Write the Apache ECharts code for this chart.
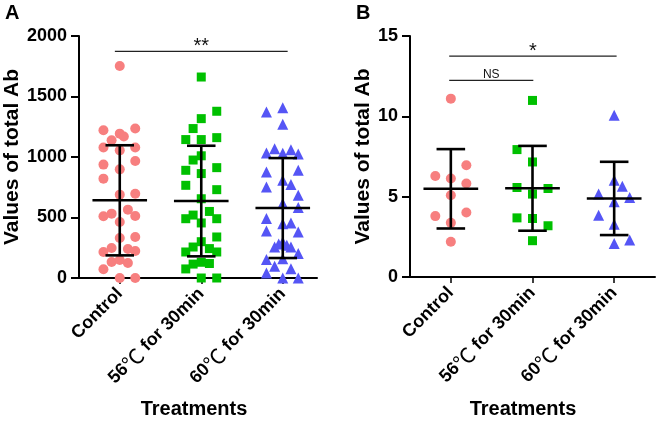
<!DOCTYPE html>
<html>
<head>
<meta charset="utf-8">
<script src="https://cdn.jsdelivr.net/npm/echarts@6/dist/echarts.min.js"></script>
<style>html,body{margin:0;padding:0;background:#fff}#c{width:661px;height:422px}</style>
</head>
<body>
<div id="c"></div>
<script>
// ---------- data ----------
const categories = ['Control', '56℃ for 30min', '60℃ for 30min'];
const yTicksA = [0, 500, 1000, 1500, 2000];
const yTicksB = [0, 5, 10, 15];

// points: [horizontal jitter (category units), value]
const controlA = [[0,1752],[-0.2,1221],[0.19,1235],[0,1193],[0.05,1170],[-0.1,1138],[-0.2,1078],[0.19,1078],[0,1055],[-0.2,937],[0.19,967],[0,898],[-0.2,821],[0,689],[0.19,697],[-0.2,510],[-0.1,532],[0.1,565],[0.19,512],[0,463],[-0.2,215],[-0.1,248],[0,331],[0.19,339],[0.1,240],[0.19,223],[-0.1,132],[0,149],[0.1,124],[-0.2,72],[0,0],[0.19,0]];
const heat56A = [[0,1661],[0.19,1378],[0,1317],[-0.1,1235],[-0.19,1144],[0,1144],[0.19,1160],[-0.1,975],[0,1010],[-0.19,890],[0.19,912],[0,863],[-0.19,766],[0.19,730],[0,655],[-0.19,490],[-0.1,520],[0.1,550],[0.19,490],[0,455],[-0.19,215],[-0.1,256],[0,300],[0.19,339],[0.1,243],[0.19,215],[-0.19,75],[-0.1,115],[0,130],[0.1,120],[0,0],[0.19,0]];
const heat60A = [[-0.2,1372],[0,1408],[0,1270],[-0.2,1033],[-0.1,1069],[0,1030],[0.1,1060],[0.19,1025],[-0.2,876],[0.19,890],[0,807],[-0.2,752],[0.1,772],[0.19,683],[0,615],[0.19,582],[-0.2,491],[-0.2,388],[0,449],[0.1,455],[0.19,380],[-0.1,256],[0,298],[0.1,256],[-0.05,280],[0.05,270],[-0.2,152],[-0.1,97],[0,160],[0.1,77],[0.19,202],[-0.2,41],[0,0],[0.19,0]];
const controlB = [[0,11.1],[-0.19,6.29],[0.19,6.96],[0,6.13],[0.19,5.82],[0,5.09],[-0.19,3.79],[0.19,4.02],[0,3.37],[0,2.19]];
const heat56B = [[0,10.99],[-0.19,7.93],[0,7.16],[-0.19,5.57],[0.19,5.51],[0,5.16],[-0.19,3.68],[0,3.64],[0.19,3.19],[0,2.26]];
const heat60B = [[0,10.06],[0,6.02],[0.1,5.65],[-0.19,5.16],[0.19,4.95],[0,4.68],[-0.19,3.85],[0,3.29],[0.19,2.30],[0,2.09]];

// mean and SD per group
const meanA = [642, 636, 578];
const sdA = [455, 457, 413];
const meanB = [5.49, 5.52, 4.89];
const sdB = [2.47, 2.64, 2.28];

// significance brackets: [from category, to category, height]
const sigA = [[0.94, 3.06, 1873]];
const sigALabels = ['**'];
const sigB = [[0.98, 3.03, 13.75], [0.98, 2.01, 12.24]];
const sigBLabels = ['*', 'NS'];

// ---------- chart ----------
const FONT = '"Liberation Sans", Arial, "Noto Sans CJK SC", sans-serif';
const colors = ['#F77F7F', '#00C000', '#5555F5'];
const symbols = ['circle', 'rect', 'triangle'];
const sizes = [10, 9, 11];

function pts(arr, cat) { return arr.map(p => [cat + p[0], p[1]]); }

function errItem(params, api) {
  const x = api.value(0), m = api.value(1), s = api.value(2);
  const a = api.coord([x - 0.335, m]), b = api.coord([x + 0.335, m]);
  const t = api.coord([x, m + s]), d = api.coord([x, m - s]);
  const tl = api.coord([x - 0.175, m + s]), tr = api.coord([x + 0.175, m + s]);
  const dl = api.coord([x - 0.175, m - s]), dr = api.coord([x + 0.175, m - s]);
  const st = {stroke: '#000', lineWidth: 2.6};
  return {type: 'group', children: [
    {type: 'line', shape: {x1: a[0], y1: a[1], x2: b[0], y2: b[1]}, style: st},
    {type: 'line', shape: {x1: t[0], y1: t[1], x2: d[0], y2: d[1]}, style: st},
    {type: 'line', shape: {x1: tl[0], y1: tl[1], x2: tr[0], y2: tr[1]}, style: st},
    {type: 'line', shape: {x1: dl[0], y1: dl[1], x2: dr[0], y2: dr[1]}, style: st}
  ]};
}

function sigRender(labels, fonts, lift) {
  return function (params, api) {
    const p1 = api.coord([api.value(0), api.value(2)]);
    const p2 = api.coord([api.value(1), api.value(2)]);
    const i = params.dataIndex;
    return {type: 'group', children: [
      {type: 'line', shape: {x1: p1[0], y1: p1[1], x2: p2[0], y2: p2[1]}, style: {stroke: '#222', lineWidth: 1.4}},
      {type: 'text', style: {text: labels[i], x: (p1[0] + p2[0]) / 2, y: p1[1] + lift[i], align: 'center', verticalAlign: 'bottom', fill: '#111', font: fonts[i]}}
    ]};
  };
}

function xAxisCfg(gi, max) {
  return {
    gridIndex: gi, type: 'value', min: 0.5, max: max,
    splitLine: {show: false},
    axisLine: {show: true, onZero: false, lineStyle: {color: '#000', width: 2}},
    axisTick: {show: true, customValues: [1, 2, 3], length: 6, lineStyle: {color: '#000', width: 1.5}},
    axisLabel: {customValues: [1, 2, 3],
      formatter: v => categories[Math.round(v) - 1].replace('℃', '{c|℃}'),
      rotate: 45, margin: 13,
      color: '#000', fontWeight: 'bold', fontSize: 18, fontFamily: FONT,
      rich: {c: {fontSize: 21, fontWeight: 'normal', color: '#000', fontFamily: '"Noto Sans CJK SC", sans-serif'}}}
  };
}
function yAxisCfg(gi, max, interval, gap) {
  return {
    gridIndex: gi, type: 'value', min: 0, max: max, interval: interval,
    splitLine: {show: false},
    name: 'Values of total Ab', nameLocation: 'middle', nameGap: gap,
    nameTextStyle: {color: '#000', fontWeight: 'bold', fontSize: 21, fontFamily: FONT},
    axisLine: {show: true, lineStyle: {color: '#000', width: 2}},
    axisTick: {show: true, length: 8, lineStyle: {color: '#000', width: 2}},
    axisLabel: {margin: 12, color: '#000', fontWeight: 'bold', fontSize: 18, fontFamily: FONT,
      formatter: v => String(v)}
  };
}

const groupsA = [controlA, heat56A, heat60A];
const groupsB = [controlB, heat56B, heat60B];
const series = [];
groupsA.forEach((g, i) => series.push({type: 'scatter', xAxisIndex: 0, yAxisIndex: 0, data: pts(g, i + 1),
  symbol: symbols[i], symbolSize: sizes[i], itemStyle: {color: colors[i], opacity: 1}, silent: true, z: 2}));
groupsB.forEach((g, i) => series.push({type: 'scatter', xAxisIndex: 1, yAxisIndex: 1, data: pts(g, i + 1),
  symbol: symbols[i], symbolSize: sizes[i], itemStyle: {color: colors[i], opacity: 1}, silent: true, z: 2}));
series.push({type: 'custom', xAxisIndex: 0, yAxisIndex: 0, renderItem: errItem, z: 5,
  data: meanA.map((m, i) => [i + 1, m, sdA[i]])});
series.push({type: 'custom', xAxisIndex: 1, yAxisIndex: 1, renderItem: errItem, z: 5,
  data: meanB.map((m, i) => [i + 1, m, sdB[i]])});
series.push({type: 'custom', xAxisIndex: 0, yAxisIndex: 0, z: 5, data: sigA,
  renderItem: sigRender(sigALabels, ['20px ' + FONT], [5])});
series.push({type: 'custom', xAxisIndex: 1, yAxisIndex: 1, z: 5, data: sigB,
  renderItem: sigRender(sigBLabels, ['20px ' + FONT, '12px ' + FONT], [5, 0])});

const chart = echarts.init(document.getElementById('c'), null, {renderer: 'canvas'});
chart.setOption({
  animation: false,
  backgroundColor: '#fff',
  grid: [
    {left: 79, right: 344, top: 36, bottom: 144},
    {left: 410, right: 6, top: 36, bottom: 145}
  ],
  xAxis: [xAxisCfg(0, 3.42), xAxisCfg(1, 3.5)],
  yAxis: [yAxisCfg(0, yTicksA[yTicksA.length - 1], yTicksA[1] - yTicksA[0], 55),
          yAxisCfg(1, yTicksB[yTicksB.length - 1], yTicksB[1] - yTicksB[0], 33)],
  graphic: [
    {type: 'text', left: 5, top: 3, style: {text: 'A', font: 'bold 20px ' + FONT, fill: '#000'}},
    {type: 'text', left: 356, top: 3, style: {text: 'B', font: 'bold 20px ' + FONT, fill: '#000'}},
    {type: 'text', x: 194, y: 409, style: {text: 'Treatments', font: 'bold 20px ' + FONT, fill: '#000', align: 'center', verticalAlign: 'middle'}},
    {type: 'text', x: 523, y: 409, style: {text: 'Treatments', font: 'bold 20px ' + FONT, fill: '#000', align: 'center', verticalAlign: 'middle'}}
  ],
  series: series
});
</script>
</body>
</html>
